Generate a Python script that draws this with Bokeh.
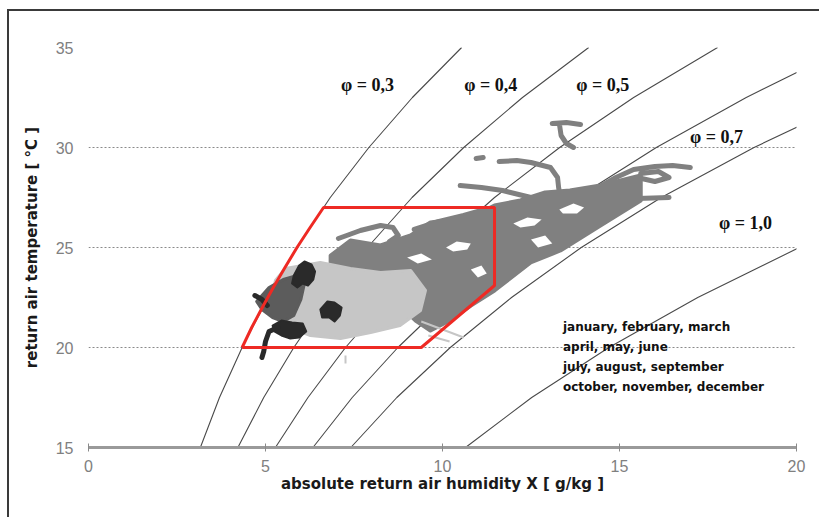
from bokeh.plotting import figure
from bokeh.models import Range1d, FixedTicker, Legend, LegendItem, ColumnDataSource
from bokeh.core.properties import value
from bokeh.embed import file_html
from bokeh.resources import INLINE

nan = float("nan")

# ---- relative humidity curves (x in g/kg at given temperatures) ----
curve_temps = [15, 17.5, 20, 22.5, 25, 27.5, 30, 32.5, 35]
phi_03 = [3.16, 3.70, 4.34, 5.07, 5.89, 6.83, 7.92, 9.15, 10.54]
phi_04 = [4.22, 4.95, 5.80, 6.77, 7.88, 9.14, 10.60, 12.26, 14.13]
phi_05 = [5.28, 6.20, 7.26, 8.49, 9.88, 11.47, 13.31, 15.40, 17.77]
phi_06 = [6.34, 7.45, 8.74, 10.21, 11.90, 13.81, 16.04, 18.58, 21.44]
phi_07 = [7.41, 8.71, 10.22, 11.95, 13.92, 16.18, 18.80, 21.78, 25.10]
phi_10 = [10.65, 12.52, 14.70, 17.21, 20.08, 23.40, 27.30, 31.60, 36.60]

label_x = [7.88, 11.36, 14.53, 17.74, 18.56]
label_t = [33.15, 33.15, 33.15, 30.55, 26.25]
label_text = ["φ = 0,3", "φ = 0,4", "φ = 0,5", "φ = 0,7", "φ = 1,0"]

# ---- comfort zone ----
zone_x = [4.34, 4.61, 4.91, 5.22, 5.55, 5.89, 6.26, 6.64, 11.47, 11.47, 9.40, 4.34]
zone_t = [20, 21, 22, 23, 24, 25, 26, 27, 27, 23.1, 20, 20]

# ---- measured data (traced from the picture) ----
# july - september (medium grey cloud)
jul_mass_x = [6.84, 7.4, 8.25, 9.1, 9.66, 10.5, 11.07, 11.47, 12.2, 12.9, 13.6, 14.46, 15.6,
              15.6, 14.46, 13.33, 12.49, 11.47, 10.8, 10.2, 9.66, 9.24, 8.8, 8.25, 7.4, 6.84]
jul_mass_t = [24.6, 25.35, 25.1, 25.6, 26.25, 26.45, 26.75, 27.1, 27.35, 27.75, 27.85, 28.1, 28.6,
              27.35, 26.1, 24.85, 24.25, 22.85, 22.1, 21.35, 20.85, 21.35, 22.1, 22.85, 23.35, 23.75]
jul_path_x = [7.06, 7.68, 8.25, 8.6, 8.75, 8.5, nan,
              10.5, 11.1, 11.7, 12.5, 13.0, nan,
              11.6, 12.1, 12.5, 13.05, 13.25, 13.28, 13.35, nan,
              13.1, 13.5, 13.9, nan,
              13.3, 13.35, 13.5, 13.7, nan,
              10.95, 11.15, nan,
              14.4, 14.9, 15.4, 16.0, 16.5, 17.0, nan,
              15.5, 16.0, 16.4, 16.1, 15.6, nan,
              14.6, 15.5, 16.4, nan,
              9.2, 9.9, 10.6, 11.2]
jul_path_t = [25.45, 25.85, 26.1, 26.0, 25.6, 25.3, nan,
              28.1, 28.0, 27.85, 27.5, 27.1, nan,
              29.3, 29.35, 29.25, 29.0, 28.5, 28.0, 27.3, nan,
              31.2, 31.25, 31.15, nan,
              31.2, 30.6, 30.2, 30.0, nan,
              29.45, 29.5, nan,
              28.0, 28.5, 28.9, 29.05, 29.1, 29.0, nan,
              28.5, 28.3, 28.5, 28.8, 28.7, nan,
              27.45, 27.45, 27.5, nan,
              25.9, 26.3, 26.6, 26.9]
# gaps inside the july cloud
hole_xs = [[10.1, 10.4, 10.8, 10.7, 10.3], [12.0, 12.4, 12.8, 12.6, 12.2], [13.3, 13.7, 14.0, 13.8, 13.4],
           [10.8, 11.1, 11.25, 11.0], [9.0, 9.4, 9.7, 9.3], [12.5, 12.9, 13.1, 12.7]]
hole_ts = [[25.0, 25.3, 25.2, 24.9, 24.8], [26.2, 26.5, 26.4, 26.1, 26.0], [26.9, 27.2, 27.0, 26.7, 26.7],
           [23.9, 24.1, 23.7, 23.5], [24.5, 24.7, 24.4, 24.2], [25.4, 25.6, 25.2, 25.0]]

# april - june (light grey cloud)
apr_mass_x = [5.56, 6.55, 7.4, 8.25, 9.1, 9.52, 9.38, 8.8, 7.97, 7.12, 6.27, 5.56, 5.14, 5.28]
apr_mass_t = [23.95, 24.25, 23.95, 23.75, 23.85, 22.85, 21.85, 21.1, 20.75, 20.45, 20.6, 21.1, 22.35, 23.35]
apr_path_x = [9.4, 10.0, 10.6, nan, 9.6, 10.2, nan, 7.26, 7.26]
apr_path_t = [21.3, 20.9, 20.5, nan, 20.6, 20.3, nan, 19.6, 19.2]

# october - december (dark grey)
oct_mass_x = [4.75, 5.1, 5.5, 5.9, 6.1, 6.0, 5.8, 5.5, 5.2, 4.9]
oct_mass_t = [22.3, 23.0, 23.4, 23.6, 23.2, 22.4, 21.6, 21.3, 21.5, 21.9]

# january - march (near black)
jan_blob_xs = [[5.8, 5.95, 6.1, 6.3, 6.4, 6.35, 6.2, 6.05, 5.9, 5.75],
               [6.55, 6.75, 6.95, 7.15, 7.1, 6.95, 6.8, 6.6],
               [5.2, 5.45, 5.75, 6.05, 6.15, 5.95, 5.7, 5.45, 5.25]]
jan_blob_ts = [[23.6, 24.1, 24.3, 24.15, 23.8, 23.4, 23.1, 23.2, 23.0, 23.2],
               [21.9, 22.3, 22.25, 22.0, 21.6, 21.3, 21.5, 21.5],
               [21.1, 21.35, 21.25, 21.2, 20.8, 20.5, 20.45, 20.6, 20.8]]
jan_path_x = [5.35, 5.1, 5.0, 4.95, 4.9, nan, 4.7, 4.9, 5.05]
jan_path_t = [21.0, 20.8, 20.3, 19.8, 19.5, nan, 22.6, 22.4, 22.1]

legend_labels = ["january, february, march", "april, may, june",
                 "july, august, september", "october, november, december"]

x_ticks = [0, 5, 10, 15, 20]
y_ticks = [15, 20, 25, 30, 35]

p = figure(width=812, height=508, x_range=Range1d(0, 20), y_range=Range1d(15, 35),
           output_backend="svg", toolbar_location=None,
           min_border_left=79, min_border_right=25, min_border_top=36, min_border_bottom=72)
p.styles = {"border-top": "2px solid #3a3a3a", "border-left": "2px solid #3a3a3a",
            "margin-left": "7px", "margin-top": "9px"}
p.outline_line_color = None
p.background_fill_color = "white"
p.border_fill_color = "white"

p.xaxis.ticker = FixedTicker(ticks=x_ticks)
p.yaxis.ticker = FixedTicker(ticks=y_ticks)
p.xgrid.visible = False
p.ygrid.grid_line_color = "#8a8a8a"
p.ygrid.grid_line_dash = "2 2"
p.ygrid.grid_line_width = 1

for ax in (p.xaxis[0], p.yaxis[0]):
    ax.major_label_text_font = "Liberation Sans Narrow, Liberation Sans, Arial"
    ax.major_label_text_font_size = "16px"
    ax.major_label_text_color = "#808080"
    ax.minor_tick_line_color = None
    ax.axis_label_text_font = "DejaVu Sans"
    ax.axis_label_text_font_style = "bold"
    ax.axis_label_text_font_size = "15px"
    ax.axis_label_text_color = "#1a1a1a"

p.xaxis.axis_line_color = "#9a9a9a"
p.xaxis.axis_line_width = 3
p.xaxis.major_tick_line_color = "#8a8a8a"
p.xaxis.major_tick_in = 4
p.xaxis.major_tick_out = 4
p.xaxis.major_label_standoff = 8
p.xaxis.axis_label = "absolute return air humidity X [ g/kg ]"
p.xaxis.axis_label_standoff = 0

p.yaxis.axis_line_color = None
p.yaxis.major_tick_line_color = None
p.yaxis.major_tick_out = 0
p.yaxis.major_tick_in = 0
p.yaxis.major_label_standoff = 15
p.yaxis.axis_label = "return air temperature [ °C ]"
p.yaxis.axis_label_standoff = 12

# humidity curves
for xs in (phi_03, phi_04, phi_05, phi_06, phi_07, phi_10):
    p.line(xs, curve_temps, line_color="#4a4a4a", line_width=1.1)

# measured data
p.patch(jul_mass_x, jul_mass_t, fill_color="#808080", line_color="#808080", line_width=4, line_join="round")
p.line(jul_path_x, jul_path_t, line_color="#808080", line_width=5, line_join="round", line_cap="round")
p.patches(hole_xs, hole_ts, fill_color="white", line_color=None)
p.patch(apr_mass_x, apr_mass_t, fill_color="#c6c6c6", line_color="#c6c6c6", line_width=3, line_join="round")
p.line(apr_path_x, apr_path_t, line_color="#c6c6c6", line_width=2)
p.patch(oct_mass_x, oct_mass_t, fill_color="#5c5c5c", line_color="#5c5c5c", line_width=3, line_join="round")
p.patches(jan_blob_xs, jan_blob_ts, fill_color="#2a2a2a", line_color="#2a2a2a", line_width=2, line_join="round")
p.line(jan_path_x, jan_path_t, line_color="#2a2a2a", line_width=5, line_join="round", line_cap="round")

# comfort zone
p.line(zone_x, zone_t, line_color="#ee2a24", line_width=3)

# curve labels
p.text(x=label_x, y=label_t, text=label_text, text_font=value("Liberation Serif"),
       text_font_style="bold", text_font_size="18px", text_align="center",
       text_baseline="middle", text_color="#111111")

# legend (marker glyphs only)
empty = dict(x=[], y=[])
r1 = p.scatter("x", "y", source=ColumnDataSource(empty), marker="cross", size=7, line_color="#8a8a8a")
r2 = p.scatter("x", "y", source=ColumnDataSource(empty), marker="triangle", size=6,
               fill_color="#a8a8a8", line_color="#a8a8a8")
r3 = p.scatter("x", "y", source=ColumnDataSource(empty), marker="dash", size=6, line_color="#a8a8a8")
r4 = p.scatter("x", "y", source=ColumnDataSource(empty), marker="dash", size=5, line_color="#8a8a8a")
items = [LegendItem(label=lab, renderers=[r]) for lab, r in zip(legend_labels, (r1, r2, r3, r4))]
legend = Legend(items=items, location=(464, 50), border_line_color=None, background_fill_alpha=0,
                padding=0, margin=0, spacing=0, label_height=20, glyph_height=20, glyph_width=8,
                label_standoff=3, label_text_font="DejaVu Sans", label_text_font_style="bold",
                label_text_font_size="12px", label_text_color="#111111")
p.add_layout(legend, "center")

open("out.html", "w").write(file_html(p, INLINE))
